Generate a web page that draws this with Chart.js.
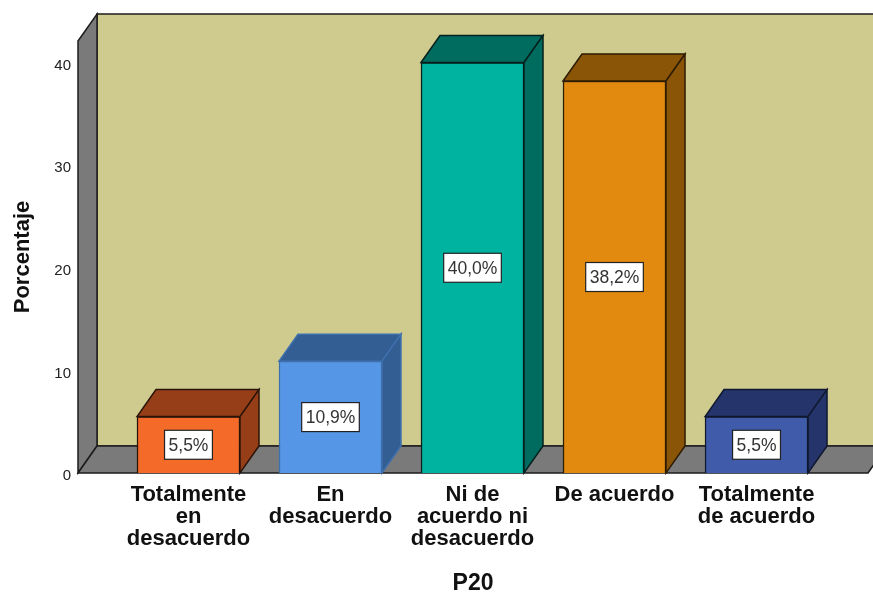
<!DOCTYPE html>
<html>
<head>
<meta charset="utf-8">
<style>
  html, body { margin: 0; padding: 0; background: #fff; overflow: hidden; }
  canvas { display: block; }
</style>
<script src="https://cdn.jsdelivr.net/npm/chart.js@4/dist/chart.umd.js"></script>
</head>
<body>
<canvas id="c" width="873" height="592"></canvas>
<script>
// ---- data ----
const categories = [
  ['Totalmente', 'en', 'desacuerdo'],
  ['En', 'desacuerdo'],
  ['Ni de', 'acuerdo ni', 'desacuerdo'],
  ['De acuerdo'],
  ['Totalmente', 'de acuerdo'],
];
const percentages = [5.5, 10.9, 40.0, 38.2, 5.5];
const yTicks = [0, 10, 20, 30, 40];
const frontColors = ['#F46A29', '#5596E6', '#00B2A0', '#E28A0F', '#3F5BA9'];
const depthColors = ['#963E18', '#335E94', '#006B5F', '#8B5508', '#25346A'];
const edgeColors = ['#2a1408', '#3F70AE', '#06201d', '#2e1c03', '#10182f'];

// ---- 3D look ----
const DX = 19;
const DY = 27;
const WALL = '#CFCB8F';
const SIDE = '#7A7A7A';
const LINE = '#1c1c1c';
const FONT = '"Liberation Sans", Arial, sans-serif';

function poly(ctx, pts, fill) {
  ctx.beginPath();
  pts.forEach((p, i) => (i ? ctx.lineTo(p[0], p[1]) : ctx.moveTo(p[0], p[1])));
  ctx.closePath();
  ctx.fillStyle = fill;
  ctx.fill();
  ctx.stroke();
}

const box3d = {
  id: 'box3d',
  beforeDatasetsDraw(chart) {
    const { ctx, chartArea: a } = chart;
    ctx.save();
    ctx.strokeStyle = LINE;
    ctx.lineWidth = 1.5;
    poly(ctx, [[a.left + DX, a.top - DY], [a.right + DX, a.top - DY], [a.right + DX, a.bottom - DY], [a.left + DX, a.bottom - DY]], WALL);
    poly(ctx, [[a.left, a.top], [a.left + DX, a.top - DY], [a.left + DX, a.bottom - DY], [a.left, a.bottom]], SIDE);
    poly(ctx, [[a.left, a.bottom], [a.left + DX, a.bottom - DY], [a.right + DX, a.bottom - DY], [a.right, a.bottom]], SIDE);
    ctx.restore();
  },
  afterDatasetsDraw(chart) {
    const { ctx } = chart;
    const bars = chart.getDatasetMeta(0).data;
    ctx.save();
    bars.forEach((bar, i) => {
      const l = bar.x - bar.width / 2;
      const r = bar.x + bar.width / 2;
      ctx.strokeStyle = edgeColors[i];
      ctx.lineWidth = 1.5;
      poly(ctx, [[l, bar.y], [l + DX, bar.y - DY], [r + DX, bar.y - DY], [r, bar.y]], depthColors[i]);
      poly(ctx, [[r, bar.y], [r + DX, bar.y - DY], [r + DX, bar.base - DY], [r, bar.base]], depthColors[i]);

      // value box
      const label = percentages[i].toFixed(1).replace('.', ',') + '%';
      const cy = (bar.y + bar.base) / 2;
      ctx.font = '17.5px ' + FONT;
      const w = ctx.measureText(label).width + 8;
      ctx.fillStyle = '#fff';
      ctx.strokeStyle = '#222';
      ctx.lineWidth = 1.2;
      ctx.fillRect(bar.x - w / 2, cy - 14.5, w, 29);
      ctx.strokeRect(bar.x - w / 2, cy - 14.5, w, 29);
      ctx.fillStyle = '#333';
      ctx.textAlign = 'center';
      ctx.textBaseline = 'middle';
      ctx.fillText(label, bar.x, cy + 1);
    });
    ctx.restore();
  },
};

new Chart(document.getElementById('c'), {
  type: 'bar',
  data: {
    datasets: [{
      data: percentages.map((v, i) => ({ x: i, y: v })),
      backgroundColor: frontColors,
      borderColor: edgeColors,
      borderWidth: 1.5,
      barThickness: 103,
    }],
  },
  plugins: [box3d],
  options: {
    responsive: false,
    animation: false,
    layout: { padding: { top: 41, right: 5, left: 0, bottom: 0 } },
    plugins: { legend: { display: false }, tooltip: { enabled: false } },
    scales: {
      x: {
        type: 'linear',
        offset: false,
        min: -0.778,
        max: 4.785,
        grid: { display: false, drawTicks: false },
        border: { display: false },
        afterBuildTicks(scale) { scale.ticks = categories.map((_, i) => ({ value: i })); },
        afterFit(scale) { scale.height = 119; },
        ticks: {
          autoSkip: false,
          maxRotation: 0,
          padding: 11,
          color: '#111',
          font: { family: FONT, size: 22, weight: 'bold', lineHeight: 1 },
          callback: (v) => categories[v],
        },
        title: {
          display: true,
          text: 'P20',
          color: '#111',
          font: { family: FONT, size: 23, weight: 'bold', lineHeight: 0.7 },
          padding: { top: 0, bottom: 0 },
        },
      },
      y: {
        min: 0,
        max: 42.1,
        grid: { display: false, drawTicks: false },
        border: { display: false },
        afterBuildTicks(scale) { scale.ticks = yTicks.map((v) => ({ value: v })); },
        afterFit(scale) { scale.width = 78; },
        ticks: {
          padding: 7,
          color: '#222',
          font: { family: FONT, size: 15, lineHeight: 0.4 },
          // empty first line nudges the number down a little, as in the original
          callback: (v) => ['', String(v)],
        },
        title: {
          display: true,
          text: 'Porcentaje',
          color: '#111',
          font: { family: FONT, size: 22, weight: 'bold' },
          padding: { top: 10, bottom: 0 },
        },
      },
    },
  },
});
</script>
</body>
</html>
